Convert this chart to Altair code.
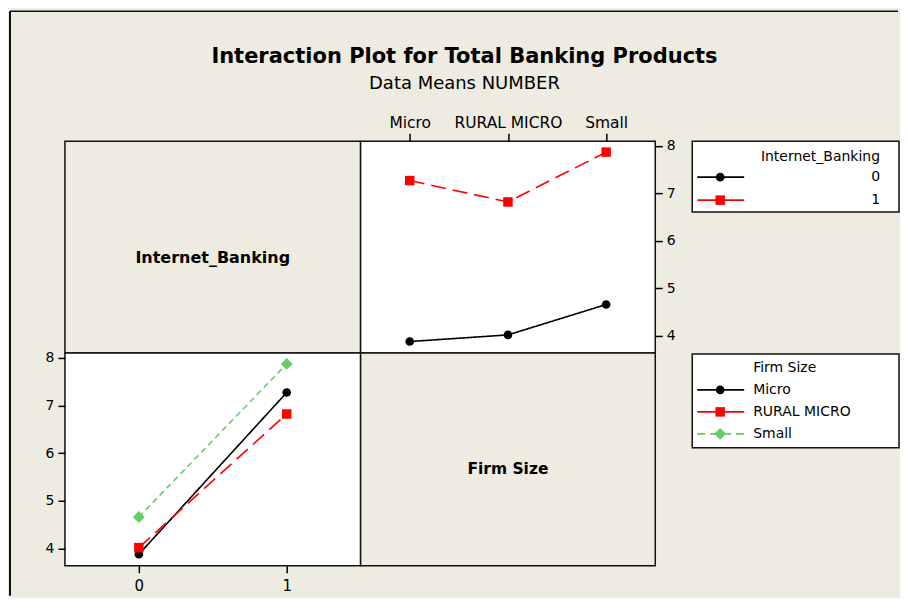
import altair as alt
import pandas as pd

# ---------------- data ----------------
firm_sizes = ["Micro", "RURAL MICRO", "Small"]
ib_levels = ["0", "1"]
means_ib0 = [3.88, 4.02, 4.66]   # Internet_Banking = 0, by firm size
means_ib1 = [7.27, 6.82, 7.87]   # Internet_Banking = 1, by firm size
y_ticks = [4, 5, 6, 7, 8]

title_text = "Interaction Plot for Total Banking Products"
subtitle_text = "Data Means NUMBER"
ib_name = "Internet_Banking"
fs_name = "Firm Size"

rows = []
for i, f in enumerate(firm_sizes):
    rows.append({"Firm Size": f, "Internet_Banking": ib_levels[0], "Mean": means_ib0[i]})
    rows.append({"Firm Size": f, "Internet_Banking": ib_levels[1], "Mean": means_ib1[i]})
df = pd.DataFrame(rows)

# ---------------- styles ----------------
BG = "#EEEBE1"
FONT = "DejaVu Sans"
ib_colors = ["#000000", "#FF0000"]
ib_dash = [[1, 0], [15, 7]]
ib_leg_dash = [[1, 0], [1, 0]]
ib_shapes = ["circle", "square"]
ib_sizes = [75, 90]
fs_colors = ["#000000", "#FF0000", "#66CC66"]
fs_dash = [[1, 0], [15, 7], [6, 4]]
fs_leg_dash = [[1, 0], [1, 0], [8, 5]]
fs_shapes = ["circle", "square", "M0,-1.25L1.25,0L0,1.25L-1.25,0Z"]
fs_sizes = [75, 90, 90]

ib_color = alt.Scale(domain=ib_levels, range=ib_colors)
ib_dash_s = alt.Scale(domain=ib_levels, range=ib_dash)
ib_leg_dash_s = alt.Scale(domain=ib_levels, range=ib_leg_dash)
ib_shape_s = alt.Scale(domain=ib_levels, range=ib_shapes)
ib_size_s = alt.Scale(type="ordinal", domain=ib_levels, range=ib_sizes)
fs_color = alt.Scale(domain=firm_sizes, range=fs_colors)
fs_dash_s = alt.Scale(domain=firm_sizes, range=fs_dash)
fs_leg_dash_s = alt.Scale(domain=firm_sizes, range=fs_leg_dash)
fs_shape_s = alt.Scale(domain=firm_sizes, range=fs_shapes)
fs_size_s = alt.Scale(type="ordinal", domain=firm_sizes, range=fs_sizes)

y_scale = alt.Scale(domain=[3.64, 8.1], nice=False, zero=False)

W1, W2, W3 = 296, 295, 244
H1, H2 = 212, 213

one = pd.DataFrame({"title": [title_text], "subtitle": [subtitle_text],
                    "ib": [ib_name], "fs": [fs_name]})

# ---------------- top-left: label panel + frame + title ----------------
tl_label = alt.Chart(one).mark_text(font=FONT, fontWeight="bold", fontSize=16,
                                   color="black", baseline="middle").encode(
    x=alt.value(148), y=alt.value(117), text="ib:N")
tl_title = alt.Chart(one).mark_text(font=FONT, fontWeight="bold", fontSize=21,
                                   color="black", baseline="alphabetic").encode(
    x=alt.value(400), y=alt.value(-78), text="title:N")
tl_sub = alt.Chart(one).mark_text(font=FONT, fontSize=18, color="black",
                                 baseline="alphabetic").encode(
    x=alt.value(400), y=alt.value(-52), text="subtitle:N")
frame_left = alt.Chart(one).mark_rule(color="#111111", strokeWidth=2).encode(
    x=alt.value(-55), y=alt.value(-130), y2=alt.value(455))
frame_top = alt.Chart(one).mark_rule(color="#111111", strokeWidth=1.5).encode(
    y=alt.value(-130), x=alt.value(-55), x2=alt.value(834))
tl = alt.layer(tl_label, tl_title, tl_sub, frame_left, frame_top).properties(
    width=W1, height=H1, view=alt.ViewBackground(fill=BG))

# ---------------- top-right: means by firm size, lines per Internet_Banking ----------------
tr_base = alt.Chart(df).encode(
    x=alt.X("Firm Size:N", sort=firm_sizes,
            scale=alt.Scale(type="point", domain=firm_sizes, padding=0.5),
            axis=alt.Axis(orient="top", title=None, labelAngle=0, tickSize=8,
                          labelPadding=3, labelFontSize=15.5, labelOverlap=False)),
    y=alt.Y("Mean:Q", scale=y_scale,
            axis=alt.Axis(orient="right", values=y_ticks, title=None, tickSize=7,
                          labelPadding=4, labelFontSize=14)),
    color=alt.Color("Internet_Banking:N", scale=ib_color, legend=None),
)
tr_lines = tr_base.mark_line(strokeWidth=1.6).encode(
    strokeDash=alt.StrokeDash("Internet_Banking:N", scale=ib_dash_s, legend=None))
tr_pts = tr_base.mark_point(filled=True, opacity=1).encode(
    shape=alt.Shape("Internet_Banking:N", scale=ib_shape_s, legend=None),
    size=alt.Size("Internet_Banking:O", scale=ib_size_s, legend=None))
tr = alt.layer(tr_lines, tr_pts).properties(
    width=W2, height=H1, view=alt.ViewBackground(fill="white"))

# ---------------- legend 1 ----------------
leg1_df = pd.DataFrame({"Internet_Banking": ib_levels})
leg1_box = alt.Chart(one).mark_rect(fill="white", stroke="#111111", strokeWidth=1.5).encode(
    x=alt.value(37), x2=alt.value(244), y=alt.value(0), y2=alt.value(71))
leg1_title = alt.Chart(one).mark_text(font=FONT, fontSize=14, align="right",
                                     baseline="middle", color="black").encode(
    x=alt.value(225), y=alt.value(16), text="ib:N")
leg1_b = alt.Chart(leg1_df).transform_window(row="row_number()").encode(
    y=alt.Y("row:Q", scale=alt.Scale(domain=[1, 2], range=[36, 59]), axis=None),
    color=alt.Color("Internet_Banking:N", scale=ib_color, legend=None),
)
leg1_rule = leg1_b.mark_rule(strokeWidth=1.6).encode(
    x=alt.value(42), x2=alt.value(89),
    strokeDash=alt.StrokeDash("Internet_Banking:N", scale=ib_leg_dash_s, legend=None))
leg1_pt = leg1_b.mark_point(filled=True, opacity=1).encode(
    x=alt.value(65),
    shape=alt.Shape("Internet_Banking:N", scale=ib_shape_s, legend=None),
    size=alt.Size("Internet_Banking:O", scale=ib_size_s, legend=None))
leg1_txt = leg1_b.mark_text(font=FONT, fontSize=14, align="right", baseline="middle").encode(
    x=alt.value(225), text="Internet_Banking:N", color=alt.value("black"))
leg1 = alt.layer(leg1_box, leg1_title, leg1_rule, leg1_pt, leg1_txt).properties(
    width=W3, height=H1, view=alt.ViewBackground(strokeOpacity=0))

# ---------------- bottom-left: means by Internet_Banking, lines per firm size ----------------
bl_base = alt.Chart(df).encode(
    x=alt.X("Internet_Banking:N", sort=ib_levels,
            scale=alt.Scale(type="point", domain=ib_levels, padding=0.5),
            axis=alt.Axis(orient="bottom", title=None, labelAngle=0, tickSize=7,
                          labelPadding=6, labelFontSize=15)),
    y=alt.Y("Mean:Q", scale=y_scale,
            axis=alt.Axis(orient="left", values=y_ticks, title=None, tickSize=7,
                          labelPadding=4, labelFontSize=14)),
    color=alt.Color("Firm Size:N", scale=fs_color, legend=None),
)
bl_lines = bl_base.mark_line(strokeWidth=1.6).encode(
    strokeDash=alt.StrokeDash("Firm Size:N", scale=fs_dash_s, legend=None))
bl_pts = bl_base.mark_point(filled=True, opacity=1).encode(
    shape=alt.Shape("Firm Size:N", scale=fs_shape_s, legend=None),
    size=alt.Size("Firm Size:O", scale=fs_size_s, legend=None))
bl = alt.layer(bl_lines, bl_pts).properties(
    width=W1, height=H2, view=alt.ViewBackground(fill="white"))

# ---------------- bottom-right: label panel ----------------
br = alt.Chart(one).mark_text(font=FONT, fontWeight="bold", fontSize=15.5,
                              color="black", baseline="middle").encode(
    x=alt.value(147.5), y=alt.value(116), text="fs:N").properties(
    width=W2, height=H2, view=alt.ViewBackground(fill=BG))

# ---------------- legend 2 ----------------
leg2_df = pd.DataFrame({"Firm Size": firm_sizes})
leg2_box = alt.Chart(one).mark_rect(fill="white", stroke="#111111", strokeWidth=1.5).encode(
    x=alt.value(37), x2=alt.value(244), y=alt.value(1), y2=alt.value(95))
leg2_title = alt.Chart(one).mark_text(font=FONT, fontSize=14, align="left",
                                     baseline="middle", color="black").encode(
    x=alt.value(98), y=alt.value(15), text="fs:N")
leg2_b = alt.Chart(leg2_df).transform_window(row="row_number()").encode(
    y=alt.Y("row:Q", scale=alt.Scale(domain=[1, 3], range=[37, 81]), axis=None),
    color=alt.Color("Firm Size:N", scale=fs_color, legend=None),
)
leg2_rule = leg2_b.mark_rule(strokeWidth=1.6).encode(
    x=alt.value(42), x2=alt.value(89),
    strokeDash=alt.StrokeDash("Firm Size:N", scale=fs_leg_dash_s, legend=None))
leg2_pt = leg2_b.mark_point(filled=True, opacity=1).encode(
    x=alt.value(65),
    shape=alt.Shape("Firm Size:N", scale=fs_shape_s, legend=None),
    size=alt.Size("Firm Size:O", scale=fs_size_s, legend=None))
leg2_txt = leg2_b.mark_text(font=FONT, fontSize=14, align="left", baseline="middle").encode(
    x=alt.value(98), text="Firm Size:N", color=alt.value("black"))
leg2 = alt.layer(leg2_box, leg2_title, leg2_rule, leg2_pt, leg2_txt).properties(
    width=W3, height=H2, view=alt.ViewBackground(strokeOpacity=0))

chart = alt.concat(tl, tr, leg1, bl, br, leg2, columns=3).properties(
    spacing=0, bounds="flush",
    padding={"left": 0, "top": 1, "right": 0, "bottom": 0},
    background=BG,
).resolve_scale(
    x="independent", y="independent", color="independent",
    shape="independent", strokeDash="independent", size="independent",
).configure_view(
    stroke="#111111", strokeWidth=1.5,
).configure_axis(
    domain=False, grid=False, labelFont=FONT, labelColor="black",
    tickColor="black", tickWidth=1.5,
)

chart.save("out.html", embed_options={"renderer": "svg", "actions": False})
